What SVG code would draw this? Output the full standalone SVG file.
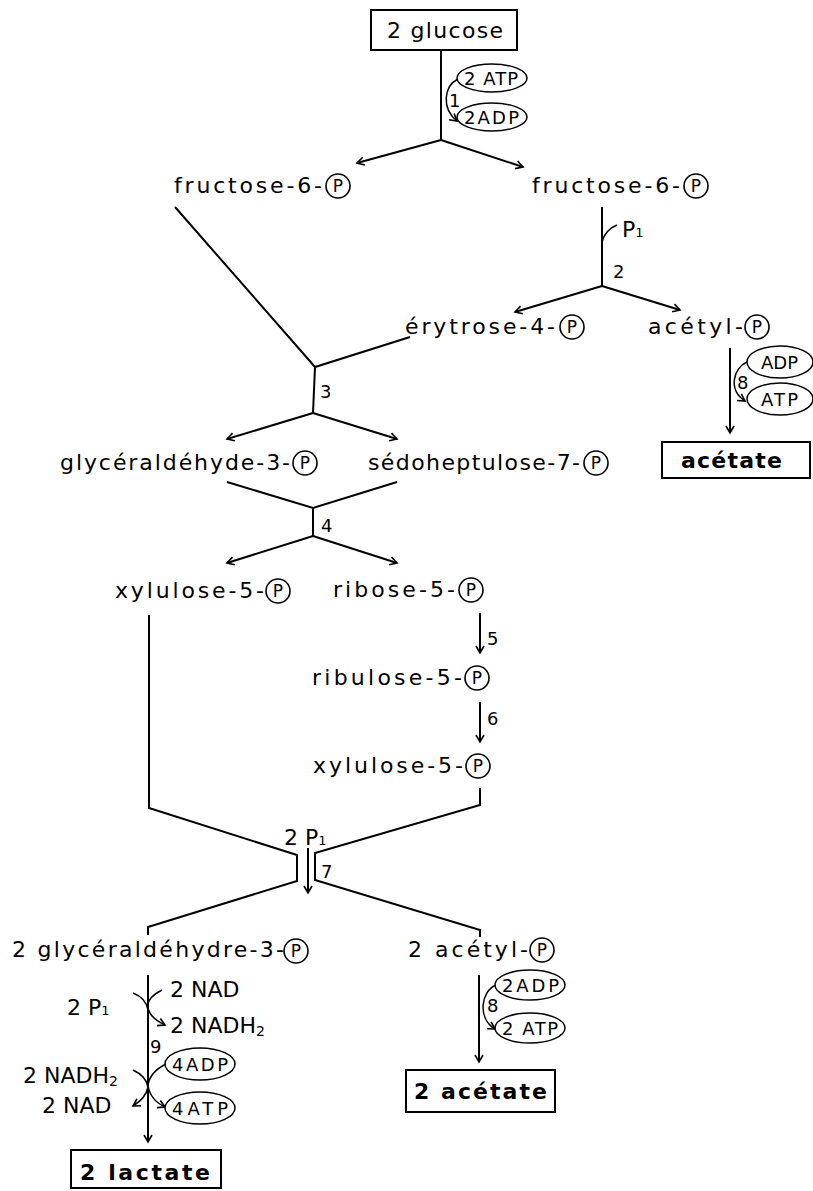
<svg xmlns="http://www.w3.org/2000/svg" width="813" height="1191" viewBox="0 0 813 1191">
<style>
.t{font-family:"DejaVu Sans","Liberation Sans",sans-serif;font-size:22px;fill:#000}
.n{font-family:"DejaVu Sans","Liberation Sans",sans-serif;font-size:18px;fill:#000}
.e{font-family:"DejaVu Sans","Liberation Sans",sans-serif;font-size:18px;fill:#000}
.p{font-family:"DejaVu Sans","Liberation Sans",sans-serif;font-size:17px;fill:#000;text-anchor:middle}
.b{font-family:"DejaVu Sans","Liberation Sans",sans-serif;font-size:22px;font-weight:bold;fill:#000}
.ln{fill:none;stroke:#000;stroke-width:2}
.th{fill:none;stroke:#000;stroke-width:1.5}
.ar{marker-end:url(#ah)}
.pc{fill:none;stroke:#000;stroke-width:1.6}
.el{fill:#fff;stroke:#000;stroke-width:1.5}
.box{fill:#fff;stroke:#000;stroke-width:2}
</style>
<defs>
<marker id="ah" markerWidth="10" markerHeight="10" refX="8" refY="5" orient="auto" markerUnits="userSpaceOnUse">
<path d="M1,1 L8,5 L1,9" fill="none" stroke="#000" stroke-width="1.6"/>
</marker>
</defs>
<rect width="813" height="1191" fill="#fff"/>

<g id="connectors">
<path class="ln" d="M441,50 V140"/>
<path class="ln ar" d="M441,140 L357,163"/>
<path class="ln ar" d="M441,140 L523,167"/>
<path class="th ar" d="M458,79 C444,86 441,108 457,121"/>
<path class="ln" d="M602,207 V286"/>
<path class="th" d="M602,242 Q605,230 617,225"/>
<path class="ln ar" d="M602,286 L515,312"/>
<path class="ln ar" d="M602,286 L680,310"/>
<path class="ln ar" d="M730,348 V433"/>
<path class="th ar" d="M747,362 C733,368 728,390 745,401"/>
<path class="ln" d="M175,207 L315,367 L410,337"/>
<path class="ln" d="M315,367 L313,413"/>
<path class="ln ar" d="M313,413 L227,439"/>
<path class="ln ar" d="M313,413 L397,439"/>
<path class="ln" d="M227,482 L313,508 L397,482"/>
<path class="ln" d="M313,508 V536"/>
<path class="ln ar" d="M313,536 L227,563"/>
<path class="ln ar" d="M313,536 L397,563"/>
<path class="ln ar" d="M480,613 V653"/>
<path class="ln ar" d="M480,702 V742"/>
<path class="ln" d="M149,615 V808 L297,855 V881 L148,927 V935"/>
<path class="ln" d="M480,788 V805 L315,853 V880 L480,930 V937"/>
<path class="ln ar" d="M308,848 V893"/>
<path class="ln ar" d="M479,975 V1062"/>
<path class="th ar" d="M496,985 C481,991 477,1018 495,1029"/>
<path class="ln ar" d="M148,975 V1142"/>
<path class="th" d="M133,993 Q146,998 148,1010"/>
<path class="th ar" d="M162,990 Q146,998 148,1008 Q150,1018 165,1025"/>
<path class="th ar" d="M133,1070 Q146,1076 148,1087 Q146,1098 133,1106"/>
<path class="th ar" d="M166,1064 Q150,1072 148,1085 Q150,1100 165,1107"/>
</g>

<g id="glucose">
<rect class="box" x="371" y="10" width="146" height="40"/>
<text class="t" x="387" y="38" textLength="116" lengthAdjust="spacing">2 glucose</text>
</g>

<g id="atp1">
<ellipse class="el" cx="492" cy="78" rx="35" ry="14"/>
<text class="e" x="464" y="85" textLength="54" lengthAdjust="spacing">2 ATP</text>
</g>
<g id="adp1">
<ellipse class="el" cx="492" cy="117" rx="35" ry="14"/>
<text class="e" x="464" y="124" textLength="55" lengthAdjust="spacing">2ADP</text>
</g>
<text class="n" x="449" y="107">1</text>

<g id="f6p-left">
<text class="t" x="174" y="193" textLength="148" lengthAdjust="spacing">fructose-6-</text>
<circle class="pc" cx="338" cy="186" r="12"/>
<text class="p" x="338" y="192">P</text>
</g>

<g id="f6p-right">
<text class="t" x="532" y="193" textLength="148" lengthAdjust="spacing">fructose-6-</text>
<circle class="pc" cx="696" cy="186" r="12"/>
<text class="p" x="696" y="192">P</text>
</g>

<text class="t" x="622" y="237">P<tspan font-size="13">1</tspan></text>
<text class="n" x="613" y="278">2</text>

<g id="e4p">
<text class="t" x="405" y="334" textLength="150" lengthAdjust="spacing">érytrose-4-</text>
<circle class="pc" cx="572" cy="327" r="12"/>
<text class="p" x="572" y="333">P</text>
</g>

<g id="acp">
<text class="t" x="648" y="334" textLength="95" lengthAdjust="spacing">acétyl-</text>
<circle class="pc" cx="757" cy="327" r="12"/>
<text class="p" x="757" y="333">P</text>
</g>

<g id="adp8">
<ellipse class="el" cx="780" cy="362" rx="33" ry="16"/>
<text class="e" x="761" y="369" textLength="37" lengthAdjust="spacing">ADP</text>
</g>
<g id="atp8">
<ellipse class="el" cx="780" cy="399" rx="33" ry="16"/>
<text class="e" x="761" y="406" textLength="37" lengthAdjust="spacing">ATP</text>
</g>
<text class="n" x="737" y="389">8</text>

<g id="acetate">
<rect class="box" x="662" y="442" width="148" height="36"/>
<text class="b" x="681" y="468" textLength="101" lengthAdjust="spacing">acétate</text>
</g>

<text class="n" x="320" y="398">3</text>

<g id="g3p">
<text class="t" x="60" y="470" textLength="230" lengthAdjust="spacing">glycéraldéhyde-3-</text>
<circle class="pc" cx="305" cy="463" r="12"/>
<text class="p" x="305" y="469">P</text>
</g>

<g id="s7p">
<text class="t" x="368" y="470" textLength="212" lengthAdjust="spacing">sédoheptulose-7-</text>
<circle class="pc" cx="596" cy="463" r="12"/>
<text class="p" x="596" y="469">P</text>
</g>

<text class="n" x="321" y="532">4</text>

<g id="x5p">
<text class="t" x="115" y="598" textLength="149" lengthAdjust="spacing">xylulose-5-</text>
<circle class="pc" cx="278" cy="591" r="12"/>
<text class="p" x="278" y="597">P</text>
</g>

<g id="r5p">
<text class="t" x="333" y="597" textLength="122" lengthAdjust="spacing">ribose-5-</text>
<circle class="pc" cx="471" cy="590" r="12"/>
<text class="p" x="471" y="596">P</text>
</g>

<text class="n" x="487" y="645">5</text>

<g id="ru5p">
<text class="t" x="312" y="685" textLength="150" lengthAdjust="spacing">ribulose-5-</text>
<circle class="pc" cx="477" cy="678" r="12"/>
<text class="p" x="477" y="684">P</text>
</g>

<text class="n" x="487" y="725">6</text>

<g id="x5p2">
<text class="t" x="313" y="773" textLength="150" lengthAdjust="spacing">xylulose-5-</text>
<circle class="pc" cx="478" cy="766" r="12"/>
<text class="p" x="478" y="772">P</text>
</g>

<text class="t" x="284" y="845">2 P<tspan font-size="13">1</tspan></text>
<text class="n" x="321" y="878">7</text>

<g id="g3p2">
<text class="t" x="12" y="957" textLength="272" lengthAdjust="spacing">2 glycéraldéhydre-3-</text>
<circle class="pc" cx="296" cy="951" r="12"/>
<text class="p" x="296" y="957">P</text>
</g>

<g id="acp2">
<text class="t" x="408" y="957" textLength="120" lengthAdjust="spacing">2 acétyl-</text>
<circle class="pc" cx="542" cy="950" r="12"/>
<text class="p" x="542" y="956">P</text>
</g>

<g id="adp8b">
<ellipse class="el" cx="530" cy="985" rx="35" ry="15"/>
<text class="e" x="502" y="992" textLength="57" lengthAdjust="spacing">2ADP</text>
</g>
<g id="atp8b">
<ellipse class="el" cx="530" cy="1028" rx="35" ry="15"/>
<text class="e" x="502" y="1035" textLength="56" lengthAdjust="spacing">2 ATP</text>
</g>
<text class="n" x="487" y="1012">8</text>

<g id="acetate2">
<rect class="box" x="406" y="1070" width="149" height="42"/>
<text class="b" x="414" y="1099" textLength="133" lengthAdjust="spacing">2 acétate</text>
</g>

<text class="t" x="170" y="997">2 NAD</text>
<text class="t" x="67" y="1015">2 P<tspan font-size="13">1</tspan></text>
<text class="t" x="170" y="1033">2 NADH<tspan font-size="14" dy="3">2</tspan></text>
<text class="n" x="150" y="1053">9</text>
<text class="t" x="23" y="1083">2 NADH<tspan font-size="14" dy="3">2</tspan></text>
<text class="t" x="42" y="1113">2 NAD</text>

<g id="adp9">
<ellipse class="el" cx="200" cy="1064" rx="35" ry="16"/>
<text class="e" x="172" y="1071" textLength="56" lengthAdjust="spacing">4ADP</text>
</g>
<g id="atp9">
<ellipse class="el" cx="200" cy="1108" rx="35" ry="16"/>
<text class="e" x="172" y="1115" textLength="56" lengthAdjust="spacing">4ATP</text>
</g>

<g id="lactate">
<rect class="box" x="71" y="1150" width="150" height="38"/>
<text class="b" x="80" y="1180" textLength="130" lengthAdjust="spacing">2 lactate</text>
</g>
</svg>
